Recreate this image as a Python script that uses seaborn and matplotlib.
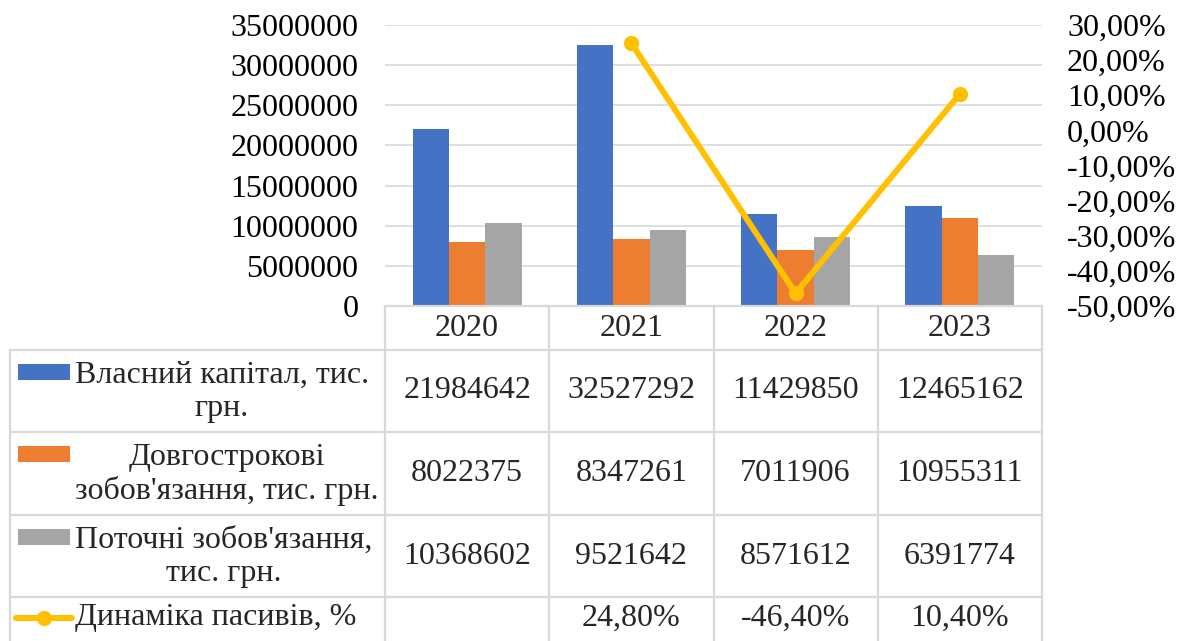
import numpy as np
import pandas as pd
import matplotlib
matplotlib.use("Agg")
import matplotlib.pyplot as plt
from matplotlib.lines import Line2D
from matplotlib.patches import Rectangle
import seaborn as sns

# ---- data ----
years = ["2020", "2021", "2022", "2023"]
equity = [21984642, 32527292, 11429850, 12465162]
long_term = [8022375, 8347261, 7011906, 10955311]
current = [10368602, 9521642, 8571612, 6391774]
dynamics = [np.nan, 24.8, -46.4, 10.4]          # %
series_names = [
    "Власний капітал, тис.\nгрн.",
    "Довгострокові\nзобов'язання, тис. грн.",
    "Поточні зобов'язання,\nтис. грн.",
]
line_name = "Динаміка пасивів, %"
left_ticks = np.arange(0, 35000001, 5000000)
right_ticks = np.arange(-50, 31, 10)

# ---- style ----
bar_colors = ["#4472C4", "#ED7D31", "#A5A5A5"]
line_color = "#FFC000"
grid_color = "#D9D9D9"
sns.set_style("white")
plt.rcParams["font.family"] = ["Liberation Serif", "DejaVu Serif"]
FS = 23
LW = 4.3
MS = 11

W, H = 1186, 641
fig = plt.figure(figsize=(W / 100, H / 100), dpi=100)

# plot area in pixels
px_left, px_right, px_top, px_bottom = 385, 1042, 25, 306
ax = fig.add_axes([px_left / W, 1 - px_bottom / H,
                   (px_right - px_left) / W, (px_bottom - px_top) / H])

df = pd.DataFrame({
    "year": years * 3,
    "value": equity + long_term + current,
    "series": [s for s in series_names for _ in years],
})
sns.barplot(data=df, x="year", y="value", hue="series", hue_order=series_names,
            palette=bar_colors, width=0.665, saturation=1, errorbar=None,
            linewidth=0, legend=False, ax=ax)
ax.set_axisbelow(True)
ax.set_ylim(0, 35000000)
ax.set_yticks(left_ticks)
ax.set_yticklabels([str(v) for v in left_ticks])
ax.yaxis.grid(True, color=grid_color, lw=1.2)
ax.xaxis.grid(False)
ax.set_xticks([])
ax.set_xlabel("")
ax.set_ylabel("")
ax.tick_params(axis="y", length=0, pad=19, labelsize=FS, labelcolor="black")
for sp in ax.spines.values():
    sp.set_visible(False)

# line on secondary axis
ax2 = ax.twinx()
xpos = np.arange(len(years))
sns.lineplot(x=xpos, y=dynamics, ax=ax2, color=line_color, lw=LW,
             marker="o", markersize=MS, markeredgewidth=0)
ax2.set_ylim(-50, 30)
ax2.set_yticks(right_ticks)
ax2.set_yticklabels([f"{v:.2f}%".replace(".", ",") for v in right_ticks])
ax2.tick_params(axis="y", length=0, pad=18, labelsize=FS, labelcolor="black")
ax2.set_ylabel("")
for sp in ax2.spines.values():
    sp.set_visible(False)
ax.set_xlim(-0.5, len(years) - 0.5)

# ---- data table below the plot ----
tab = fig.add_axes([0, 0, 1, 1])
tab.set_xlim(0, W)
tab.set_ylim(H, 0)
tab.axis("off")

col_edges = np.linspace(px_left, px_right, len(years) + 1)
col_centers = (col_edges[:-1] + col_edges[1:]) / 2
row_edges = [px_bottom, 350, 432, 515, 597, 641]
tab_left = 10
blw = 1.6

# borders
for x in col_edges:
    tab.add_line(Line2D([x, x], [row_edges[0], row_edges[-1]], color=grid_color, lw=blw))
tab.add_line(Line2D([px_left, px_right], [row_edges[0]] * 2, color=grid_color, lw=blw))
for y in row_edges[1:-1]:
    tab.add_line(Line2D([tab_left, px_right], [y, y], color=grid_color, lw=blw))
tab.add_line(Line2D([tab_left, tab_left], [row_edges[1], row_edges[-1]], color=grid_color, lw=blw))

# header row: years
hy = (row_edges[0] + row_edges[1]) / 2
for cx, yr in zip(col_centers, years):
    tab.text(cx, hy, yr, ha="center", va="center", fontsize=FS)

# bar-series rows
line_h = 39
for i, (name, vals, col) in enumerate(zip(series_names, [equity, long_term, current], bar_colors)):
    cy = (row_edges[i + 1] + row_edges[i + 2]) / 2
    tab.add_patch(Rectangle((18, cy - line_h / 2 - 8), 52, 16, color=col, lw=0))
    tab.text(75, cy + 1, name, ha="left", va="center", multialignment="center",
             fontsize=FS, linespacing=1.2)
    for cx, v in zip(col_centers, vals):
        tab.text(cx, cy, str(v), ha="center", va="center", fontsize=FS)

# line-series row
cy = (row_edges[4] + row_edges[5]) / 2 - 1
tab.add_line(Line2D([16, 72], [cy, cy], color=line_color, lw=LW, solid_capstyle="round"))
tab.add_line(Line2D([44], [cy], color=line_color, marker="o", markersize=MS,
                    markeredgewidth=0, lw=0))
tab.text(75, cy, line_name, ha="left", va="center", fontsize=FS)
for cx, v in zip(col_centers, dynamics):
    if not np.isnan(v):
        tab.text(cx, cy, f"{v:.2f}%".replace(".", ","), ha="center", va="center", fontsize=FS)

fig.savefig("out.png", dpi=100)
